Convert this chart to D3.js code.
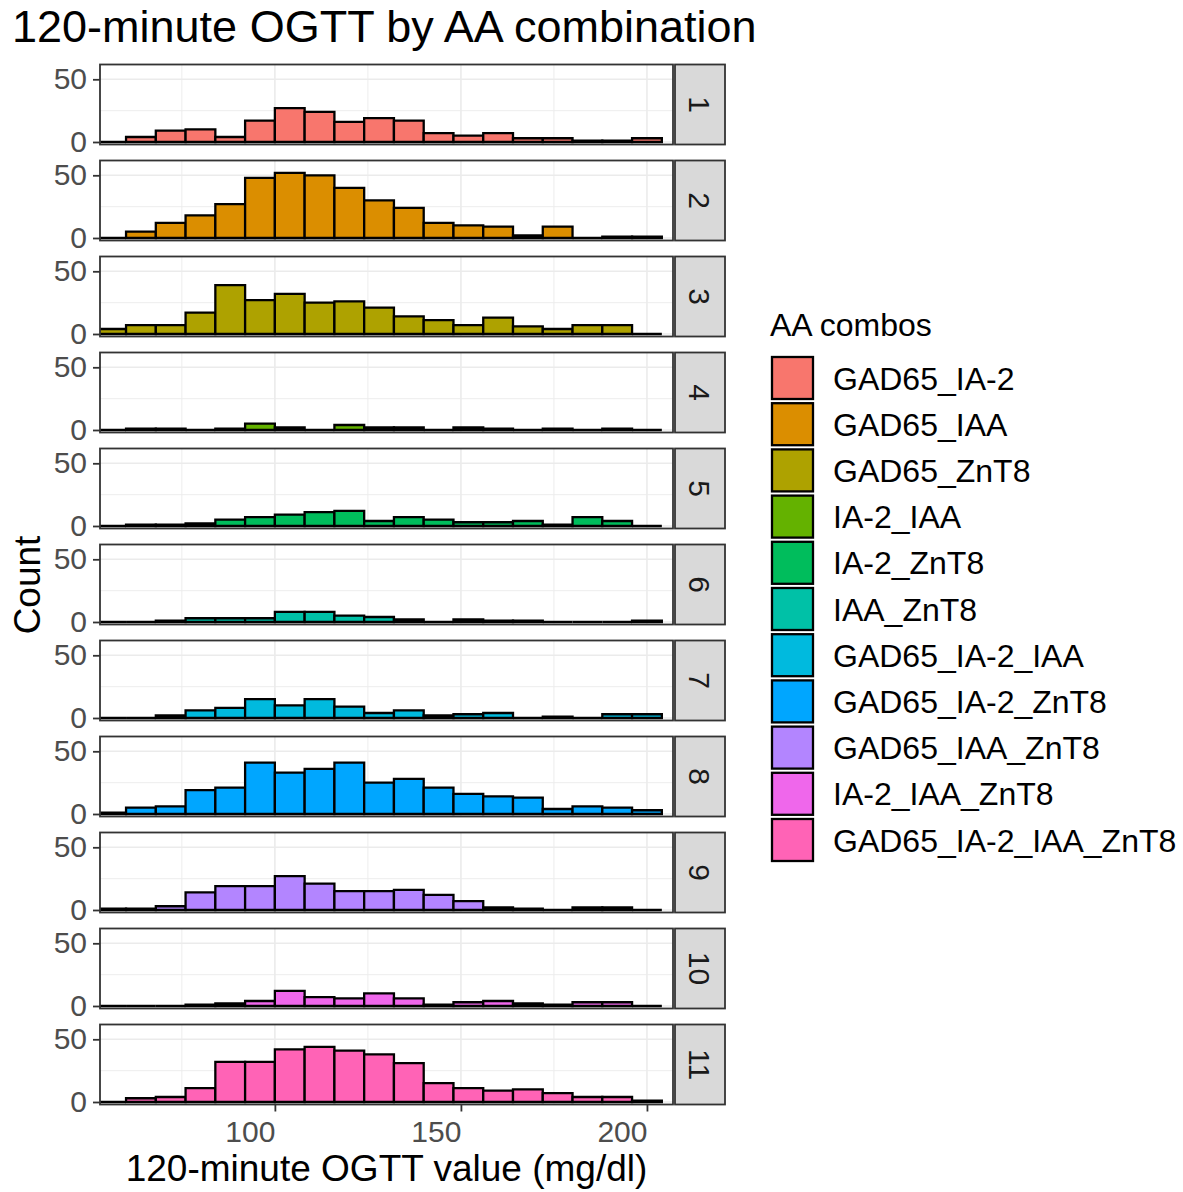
<!DOCTYPE html>
<html>
<head>
<meta charset="utf-8">
<script src="https://cdn.jsdelivr.net/npm/d3@7"></script>
<style>
  html, body { margin: 0; padding: 0; background: #ffffff; }
  svg { display: block; font-family: "Liberation Sans", Arial, sans-serif; }
</style>
</head>
<body>
<svg id="chart" width="1183" height="1192"></svg>
<script>
// Histogram bins: left edges, shared by every facet (width 8 mg/dl)
const binStarts = [52, 60, 68, 76, 84, 92, 100, 108, 116, 124, 132, 140, 148, 156, 164, 172, 180, 188, 196];
const binWidth = 8;

// Autoantibody combinations (legend order) and their facet numbers
const combos = ["GAD65_IA-2", "GAD65_IAA", "GAD65_ZnT8", "IA-2_IAA", "IA-2_ZnT8", "IAA_ZnT8",
                "GAD65_IA-2_IAA", "GAD65_IA-2_ZnT8", "GAD65_IAA_ZnT8", "IA-2_IAA_ZnT8", "GAD65_IA-2_IAA_ZnT8"];
const facetLabels = ["1", "2", "3", "4", "5", "6", "7", "8", "9", "10", "11"];
const comboColors = ["#F8766D", "#DB8E00", "#AEA200", "#64B200", "#00BD5C", "#00C1A7",
                     "#00BADE", "#00A6FF", "#B385FF", "#EF67EB", "#FF63B6"];

// Counts per bin for each combination
const countsGad65Ia2       = [0, 4, 9, 10, 4, 17, 27, 24, 16, 19, 17, 7, 5, 7, 3, 3, 1, 1, 3];
const countsGad65Iaa       = [0, 5, 12, 18, 27, 48, 52, 50, 40, 30, 24, 12, 10, 9, 2, 9, 0, 1, 1];
const countsGad65Znt8      = [4, 7, 7, 17, 39, 27, 32, 25, 26, 21, 14, 11, 7, 13, 6, 4, 7, 7, 0];
const countsIa2Iaa         = [0, 1, 1, 0, 1, 5, 2, 0, 4, 2, 2, 0, 2, 1, 0, 1, 0, 1, 0];
const countsIa2Znt8        = [0, 1, 1, 2, 5, 7, 9, 11, 12, 4, 7, 5, 3, 3, 4, 1, 7, 4, 0];
const countsIaaZnt8        = [0, 0, 1, 3, 3, 3, 8, 8, 5, 4, 2, 0, 2, 1, 1, 0, 0, 0, 1];
const countsGad65Ia2Iaa    = [0, 0, 2, 6, 8, 15, 10, 15, 9, 4, 6, 2, 3, 4, 0, 1, 0, 3, 3];
const countsGad65Ia2Znt8   = [1, 5, 6, 19, 21, 41, 33, 36, 41, 25, 28, 21, 16, 14, 13, 4, 6, 5, 3];
const countsGad65IaaZnt8   = [1, 1, 3, 14, 19, 19, 27, 21, 15, 15, 16, 12, 7, 2, 1, 0, 2, 2, 0];
const countsIa2IaaZnt8     = [0, 0, 0, 1, 2, 4, 12, 7, 6, 10, 6, 1, 3, 4, 2, 1, 3, 3, 0];
const countsAllFour        = [0, 3, 4, 11, 32, 32, 42, 44, 41, 38, 31, 15, 11, 9, 10, 7, 4, 4, 1];

const seriesCounts = [countsGad65Ia2, countsGad65Iaa, countsGad65Znt8, countsIa2Iaa, countsIa2Znt8,
                      countsIaaZnt8, countsGad65Ia2Iaa, countsGad65Ia2Znt8, countsGad65IaaZnt8,
                      countsIa2IaaZnt8, countsAllFour];

// Axis breaks
const xMajor = [100, 150, 200];
const xMinor = [75, 125, 175];
const yMajor = [0, 50];
const yMinor = [25];

// Text
const titleText = "120-minute OGTT by AA combination";
const xTitleText = "120-minute OGTT value (mg/dl)";
const yTitleText = "Count";
const legendTitleText = "AA combos";

// ---- layout ----
const panelLeft = 100, panelRight = 673;
const stripLeft = 675, stripRight = 725;
const firstTop = 64.5, panelStep = 96, panelH = 80;

const svg = d3.select("#chart");

const x = d3.scaleLinear().domain([53, 207]).range([panelLeft, panelRight]);
const y = d3.scaleLinear().domain([-2, 61.8]).range([panelH, 0]);
const color = d3.scaleOrdinal().domain(combos).range(comboColors);

// Title
svg.append("text")
  .attr("x", 12).attr("y", 42)
  .attr("font-size", 45).attr("fill", "#000")
  .text(titleText);

const defs = svg.append("defs");

seriesCounts.forEach((counts, i) => {
  const top = firstTop + i * panelStep;
  const g = svg.append("g").attr("transform", `translate(0,${top})`);

  defs.append("clipPath").attr("id", "clip" + i)
    .append("rect")
    .attr("x", panelLeft).attr("y", 0)
    .attr("width", panelRight - panelLeft).attr("height", panelH);

  g.append("rect")
    .attr("x", panelLeft).attr("y", 0)
    .attr("width", panelRight - panelLeft).attr("height", panelH)
    .attr("fill", "#fff");

  // grid
  const grid = g.append("g");
  grid.selectAll("line.xminor").data(xMinor).join("line")
    .attr("x1", d => x(d)).attr("x2", d => x(d))
    .attr("y1", 0).attr("y2", panelH)
    .attr("stroke", "#EBEBEB").attr("stroke-width", 0.9);
  grid.selectAll("line.yminor").data(yMinor).join("line")
    .attr("x1", panelLeft).attr("x2", panelRight)
    .attr("y1", d => y(d)).attr("y2", d => y(d))
    .attr("stroke", "#EBEBEB").attr("stroke-width", 0.9);
  grid.selectAll("line.xmajor").data(xMajor).join("line")
    .attr("x1", d => x(d)).attr("x2", d => x(d))
    .attr("y1", 0).attr("y2", panelH)
    .attr("stroke", "#EBEBEB").attr("stroke-width", 1.6);
  grid.selectAll("line.ymajor").data(yMajor).join("line")
    .attr("x1", panelLeft).attr("x2", panelRight)
    .attr("y1", d => y(d)).attr("y2", d => y(d))
    .attr("stroke", "#EBEBEB").attr("stroke-width", 1.6);

  // bars (paths so empty bins still show their outline on the baseline)
  const bins = binStarts.map((s, k) => ({ x0: s, x1: s + binWidth, n: counts[k] }));
  g.append("g").attr("clip-path", `url(#clip${i})`)
    .selectAll("path").data(bins).join("path")
    .attr("d", d => `M${x(d.x0)},${y(0)}V${y(d.n)}H${x(d.x1)}V${y(0)}Z`)
    .attr("fill", color(combos[i]))
    .attr("stroke", "#000").attr("stroke-width", 2.3)
    .attr("stroke-linejoin", "miter");

  // panel border
  g.append("rect")
    .attr("x", panelLeft).attr("y", 0)
    .attr("width", panelRight - panelLeft).attr("height", panelH)
    .attr("fill", "none").attr("stroke", "#333").attr("stroke-width", 1.8);

  // y axis
  const yAxis = d3.axisLeft(y).tickValues(yMajor).tickSize(7).tickPadding(6).tickFormat(d3.format("d"));
  const ya = g.append("g").attr("transform", `translate(${panelLeft},0)`).call(yAxis);
  ya.select(".domain").remove();
  ya.selectAll(".tick line").attr("stroke", "#333").attr("stroke-width", 1.8);
  ya.selectAll(".tick text").attr("font-size", 30).attr("fill", "#4D4D4D")
    .attr("font-family", "Liberation Sans, Arial, sans-serif");

  // strip
  g.append("rect")
    .attr("x", stripLeft).attr("y", 0)
    .attr("width", stripRight - stripLeft).attr("height", panelH)
    .attr("fill", "#D9D9D9").attr("stroke", "#333").attr("stroke-width", 1.8);
  g.append("text")
    .attr("transform", `translate(${(stripLeft + stripRight) / 2},${panelH / 2}) rotate(90)`)
    .attr("text-anchor", "middle").attr("dy", "0.36em")
    .attr("font-size", 30).attr("fill", "#1A1A1A")
    .text(facetLabels[i]);

  // x axis on the last panel only
  if (i === seriesCounts.length - 1) {
    const xAxis = d3.axisBottom(x).tickValues(xMajor).tickSize(7).tickPadding(9).tickFormat(d3.format("d"));
    const xa = g.append("g").attr("transform", `translate(0,${panelH})`).call(xAxis);
    xa.select(".domain").remove();
    xa.selectAll(".tick line").attr("stroke", "#333").attr("stroke-width", 1.8);
    xa.selectAll(".tick text").attr("font-size", 30).attr("fill", "#4D4D4D")
      .attr("text-anchor", "end")
      .attr("font-family", "Liberation Sans, Arial, sans-serif");
  }
});

// axis titles
svg.append("text")
  .attr("x", (panelLeft + panelRight) / 2).attr("y", 1181)
  .attr("text-anchor", "middle").attr("font-size", 37).attr("fill", "#000")
  .text(xTitleText);
svg.append("text")
  .attr("transform", `translate(40,585) rotate(-90)`)
  .attr("text-anchor", "middle").attr("font-size", 37).attr("fill", "#000")
  .text(yTitleText);

// legend
const legend = svg.append("g");
legend.append("text")
  .attr("x", 770).attr("y", 336)
  .attr("font-size", 32).attr("fill", "#000")
  .text(legendTitleText);
const keyStep = 46.2, keyTop = 357;
const items = legend.selectAll("g.item").data(combos).join("g")
  .attr("transform", (d, k) => `translate(0,${keyTop + k * keyStep})`);
items.append("rect")
  .attr("x", 772).attr("y", 0).attr("width", 41).attr("height", 42)
  .attr("fill", d => color(d)).attr("stroke", "#000").attr("stroke-width", 2.3);
items.append("text")
  .attr("x", 833).attr("y", 21).attr("dy", "0.36em")
  .attr("font-size", 32).attr("fill", "#000")
  .text(d => d);
</script>
</body>
</html>
